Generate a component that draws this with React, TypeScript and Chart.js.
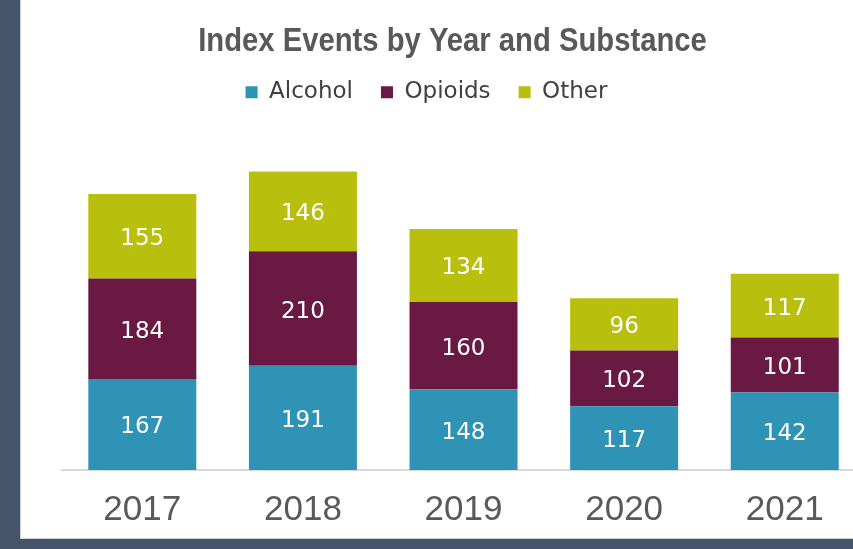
import React, { useEffect, useRef } from "react";
import { Chart, registerables } from "chart.js";

Chart.register(...registerables);

const chartTitle = "Index Events by Year and Substance";
const categories = ["2017", "2018", "2019", "2020", "2021"];
const seriesNames = ["Alcohol", "Opioids", "Other"];
const alcohol = [167, 191, 148, 117, 142];
const opioids = [184, 210, 160, 102, 101];
const other = [155, 146, 134, 96, 117];
const seriesColors = ["#2E93B4", "#6A1A42", "#B8BF0C"];

const yMax = 653;
const xMin = -0.5;
const xMax = 4.425;

const titleFont = "bold 34px 'Liberation Sans', Arial, sans-serif";

// Draws the title text (condensed) in the box reserved by Chart.js's title plugin.
const condensedTitle = {
  id: "condensedTitle",
  afterDraw(chart: any) {
    const tb = chart.titleBlock;
    if (!tb) return;
    const ctx = chart.ctx;
    const cx = (tb.left + tb.right) / 2 - 5;
    const cy = tb.top + 20 + (34 * 1.2) / 2 + 1;
    ctx.save();
    ctx.font = titleFont;
    ctx.fillStyle = "#595959";
    ctx.textAlign = "center";
    ctx.textBaseline = "middle";
    ctx.translate(cx, cy);
    ctx.scale(0.86, 1);
    ctx.fillText(chartTitle, 0, 0);
    ctx.restore();
  },
};

const valueLabels = {
  id: "valueLabels",
  afterDatasetsDraw(chart: any) {
    const ctx = chart.ctx;
    ctx.save();
    ctx.font = "23px 'DejaVu Sans', Verdana, sans-serif";
    ctx.fillStyle = "#ffffff";
    ctx.textAlign = "center";
    ctx.textBaseline = "middle";
    chart.data.datasets.forEach((ds: any, di: number) => {
      const meta = chart.getDatasetMeta(di);
      meta.data.forEach((el: any, i: number) => {
        const p = el.getProps(["x", "y", "base"], true);
        ctx.fillText(String(ds.data[i].y), p.x, (p.y + p.base) / 2 + 3);
      });
    });
    ctx.restore();
  },
};

export default function App() {
  const ref = useRef<HTMLCanvasElement | null>(null);

  useEffect(() => {
    if (!ref.current) return;
    const seriesValues = [alcohol, opioids, other];
    const chart = new Chart(ref.current, {
      type: "bar",
      data: {
        datasets: seriesNames.map((name, si) => ({
          label: name,
          data: seriesValues[si].map((v, i) => ({ x: i, y: v })),
          backgroundColor: seriesColors[si],
          borderWidth: 0,
          barPercentage: 0.6725,
          categoryPercentage: 1,
        })),
      },
      options: {
        animation: false,
        responsive: true,
        maintainAspectRatio: false,
        layout: { padding: { left: 0, right: 0, top: 0, bottom: -1 } },
        plugins: {
          title: {
            display: true,
            text: chartTitle,
            fullSize: false,
            color: "rgba(0,0,0,0)",
            font: {
              family: "'Liberation Sans', Arial, sans-serif",
              weight: "bold",
              size: 34,
              lineHeight: 1.2,
            },
            padding: { top: 20, bottom: -8 },
          },
          legend: {
            display: true,
            position: "top",
            labels: {
              boxWidth: 12,
              boxHeight: 12,
              padding: 28,
              color: "#404040",
              font: { family: "'DejaVu Sans', Verdana, sans-serif", size: 23 },
            },
          },
          tooltip: { enabled: false },
        },
        scales: {
          x: {
            type: "linear",
            offset: false,
            min: xMin,
            max: xMax,
            stacked: true,
            grid: { display: false, drawTicks: false },
            border: { display: true, color: "#D9D9D9", width: 2 },
            afterBuildTicks: (scale: any) => {
              scale.ticks = categories.map((_, i) => ({ value: i }));
            },
            ticks: {
              autoSkip: false,
              maxRotation: 0,
              includeBounds: false,
              padding: 19,
              color: "#595959",
              font: { family: "'Liberation Sans', Arial, sans-serif", size: 35 },
              callback: (v: any) => categories[v] ?? "",
            },
          },
          y: {
            type: "linear",
            stacked: true,
            min: 0,
            max: yMax,
            grid: { display: false, drawTicks: false },
            border: { display: false },
            ticks: { display: false },
            afterFit: (scale: any) => {
              scale.width = 62;
            },
          },
        },
      },
      plugins: [valueLabels, condensedTitle],
    } as any);
    return () => chart.destroy();
  }, []);

  return (
    <div
      style={{
        position: "fixed",
        left: 0,
        top: 0,
        width: 853,
        height: 549,
        overflow: "hidden",
        background: "#ffffff",
      }}
    >
      <div style={{ position: "absolute", left: 0, top: 0, width: 853, height: 549 }}>
        <canvas ref={ref} />
      </div>
      <div style={{ position: "absolute", left: 20, top: 0, width: 1, height: 539, background: "#D0D0D0" }} />
      <div style={{ position: "absolute", left: 20, top: 538, width: 833, height: 1, background: "#D0D0D0" }} />
      <div style={{ position: "absolute", left: 0, top: 0, width: 20, height: 549, background: "#44546A" }} />
      <div style={{ position: "absolute", left: 0, top: 539, width: 853, height: 10, background: "#44546A" }} />
    </div>
  );
}
